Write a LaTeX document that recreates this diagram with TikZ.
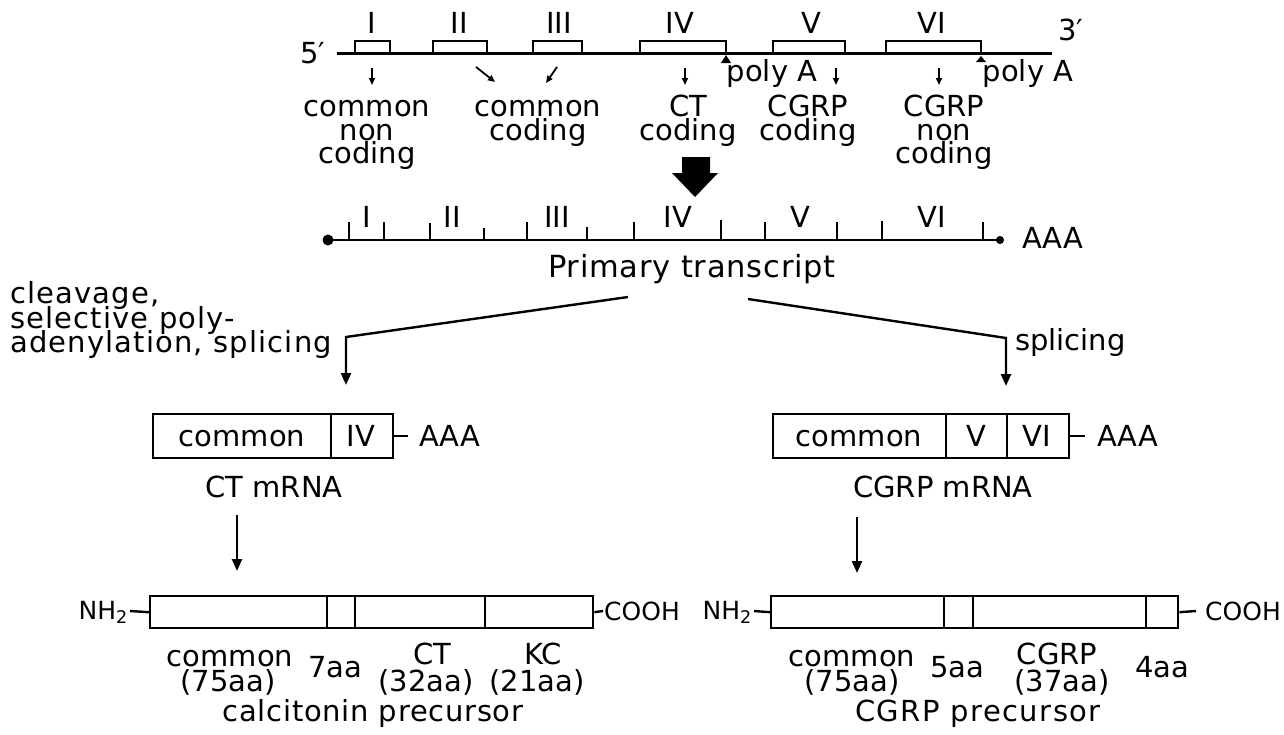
\documentclass[tikz,border=0pt]{standalone}
\usepackage{fontspec}
\setmainfont{DejaVu Sans}
\usetikzlibrary{arrows.meta}
\newcommand\mainfs{\fontsize{29}{24}\selectfont}
\newcommand\nhfs{\fontsize{25}{24}\selectfont}
\begin{document}
\begin{tikzpicture}[x=1pt,y=-1pt,
  txt/.style={font=\mainfs, inner sep=0pt, anchor=base},
  txtw/.style={font=\mainfs, inner sep=0pt, anchor=base west},
  nhtxt/.style={font=\nhfs, inner sep=0pt},
  boxn/.style={draw, line width=2.4pt, inner sep=0pt, anchor=north west},
  thin/.style={line width=2.4pt},
  small arrow/.style={line width=1.8pt, -{Triangle[length=7pt,width=6pt]}},
  big arrow/.style={line width=2.4pt, -{Triangle[length=12pt,width=10pt]}}]
\useasboundingbox (0,0) rectangle (1284,734);

% ---------------- gene ----------------
\node[txtw] (five) at (300,63) {5′};
\node[txtw] (three) at (1058,40) {3′};
\coordinate (gl) at (337,53);
\coordinate (gr) at (1052,53);
\draw[line width=3pt] (gl) -- (gr);
\foreach \a/\b in {355/390, 433/487, 533/582, 640/726, 773/845, 886/981}
  \draw[thin] (\a,53) |- (\b,41) -- (\b,53);
\node[txt] (eI) at (372,33) {I};
\node[txt] (eII) at (459,33) {II};
\node[txt] (eIII) at (559,33) {III};
\node[txt] (eIV) at (680,33) {IV};
\node[txt] (eV) at (811,33) {V};
\node[txt] (eVI) at (932,33) {VI};
\fill (726,55) -- (731,63) -- (721,63) -- cycle;
\fill (981,56) -- (986,62) -- (976,62) -- cycle;
\node[txt] (polyA1) at (772,81) {poly A};
\node[txt] (polyA2) at (1028,81) {poly A};

\coordinate (a1s) at (372,68); \coordinate (a1e) at (372,85);
\coordinate (a2s) at (476,67); \coordinate (a2e) at (495,82);
\coordinate (a3s) at (557,67); \coordinate (a3e) at (546,83);
\coordinate (a4s) at (685,68); \coordinate (a4e) at (685,85);
\coordinate (a5s) at (836,68); \coordinate (a5e) at (836,85);
\coordinate (a6s) at (939,68); \coordinate (a6e) at (939,85);
\foreach \i in {1,...,6} \draw[small arrow] (a\i s) -- (a\i e);

\node[txt] (l1a) at (367,116) {common};
\node[txt] (l1b) at (367,140) {non};
\node[txt] (l1c) at (367,163) {coding};
\node[txt] (l2a) at (538,116) {common};
\node[txt] (l2b) at (538,140) {coding};
\node[txt] (l3a) at (688,116) {CT};
\node[txt] (l3b) at (688,140) {coding};
\node[txt] (l4a) at (808,116) {CGRP};
\node[txt] (l4b) at (808,140) {coding};
\node[txt] (l5a) at (944,116) {CGRP};
\node[txt] (l5b) at (944,140) {non};
\node[txt] (l5c) at (944,163) {coding};

% big arrow
\fill (682,157) -- (710,157) -- (710,173) -- (718,173) -- (695,197) -- (672,173) -- (682,173) -- cycle;

% ---------------- primary transcript ----------------
\coordinate (tl) at (328,240);
\coordinate (tr) at (1000,240);
\draw[line width=2.6pt] (tl) -- (tr);
\fill (tl) circle (5.5);
\fill (tr) circle (4);
\foreach \x/\t in {349/222, 384/222, 430/223, 484/228, 527/222, 587/227, 634/222, 721/220, 765/222, 837/222, 882/221, 983/222}
  \draw[line width=2.2pt] (\x,240) -- (\x,\t);
\node[txt] (tI) at (367,227) {I};
\node[txt] (tII) at (452,227) {II};
\node[txt] (tIII) at (557,227) {III};
\node[txt] (tIV) at (678,227) {IV};
\node[txt] (tV) at (800,227) {V};
\node[txt] (tVI) at (932,227) {VI};
\node[txtw] (taaa) at (1022,248) {AAA};
\node[txt, font={\fontsize{30.5}{24}\selectfont\addfontfeature{LetterSpace=2.5}}] (prim) at (692,277) {Primary transcript};

% ---------------- processing ----------------
\tikzset{sp/.style={font={\mainfs\addfontfeature{LetterSpace=4}}}}
\node[txtw, sp] (c1) at (10,303) {cleavage,};
\node[txtw, sp] (c2) at (10,328) {selective poly-};
\node[txtw, sp] (c3) at (10,352) {adenylation, splicing};
\node[txtw] (spl) at (1015,350) {splicing};

\coordinate (ls) at (628,297);
\coordinate (lk) at (346,337);
\coordinate (le) at (346,385);
\coordinate (rs) at (748,299);
\coordinate (rk) at (1006,338);
\coordinate (re) at (1006,386);
\draw[big arrow] (ls) -- (lk) -- (le);
\draw[big arrow] (rs) -- (rk) -- (re);

% ---------------- mRNAs ----------------
\node[boxn, minimum width=240pt, minimum height=44pt] (ctm) at (152,413) {};
\draw[thin] (331,413) -- (331,457);
\node[txt] (ctmc) at (242,446) {common};
\node[txt] (ctmiv) at (361,446) {IV};
\coordinate (ctd) at (408,436);
\draw[thin] (ctm.east |- ctd) -- (ctd);
\node[txtw] (ctaaa) at (419,446) {AAA};
\node[txt] (ctlab) at (274,497) {CT mRNA};

\node[boxn, minimum width=296pt, minimum height=44pt] (cgm) at (772,413) {};
\draw[thin] (946,413) -- (946,457);
\draw[thin] (1007,413) -- (1007,457);
\node[txt] (cgmc) at (859,446) {common};
\node[txt] (cgmv) at (976,446) {V};
\node[txt] (cgmvi) at (1037,446) {VI};
\coordinate (cgd) at (1085,436);
\draw[thin] (cgm.east |- cgd) -- (cgd);
\node[txtw] (cgaaa) at (1097,446) {AAA};
\node[txt] (cglab) at (943,497) {CGRP mRNA};

\coordinate (cas) at (237,515); \coordinate (cae) at (237,571);
\coordinate (gas) at (857,517); \coordinate (gae) at (857,573);
\draw[big arrow] (cas) -- (cae);
\draw[big arrow] (gas) -- (gae);

% ---------------- precursors ----------------
\node[boxn, minimum width=443pt, minimum height=32pt] (pc) at (149,595) {};
\foreach \x in {327,355,485} \draw[thin] (\x,595) -- (\x,627);
\node[nhtxt, anchor=base east] (nh1) at (128,619) {NH\textsubscript{2}};
\coordinate (nh1d) at (130,611);
\draw[thin] (nh1d) -- (pc.west);
\coordinate (co1d) at (603,611);
\draw[thin] (pc.east) -- (co1d);
\node[nhtxt, anchor=base west] (co1) at (604,620) {COOH};

\node[txt] (p1a) at (230,666) {common};
\node[txt] (p1b) at (228,691) {(75aa)};
\node[txt] (p1c) at (335,677) {7aa};
\node[txt] (p1d) at (432,664) {CT};
\node[txt] (p1e) at (426,691) {(32aa)};
\node[txt] (p1f) at (543,664) {KC};
\node[txt] (p1g) at (537,691) {(21aa)};
\node[txt, font={\mainfs\addfontfeature{LetterSpace=2.5}}] (p1lab) at (373,721) {calcitonin precursor};

\node[boxn, minimum width=407pt, minimum height=32pt] (pg) at (770,595) {};
\foreach \x in {944,973,1146} \draw[thin] (\x,595) -- (\x,627);
\node[nhtxt, anchor=base east] (nh2) at (752,619) {NH\textsubscript{2}};
\coordinate (nh2d) at (754,611);
\draw[thin] (nh2d) -- (pg.west);
\coordinate (co2d) at (1196,611);
\draw[thin] (pg.east) -- (co2d);
\node[nhtxt, anchor=base east] (co2) at (1281,620) {COOH};

\node[txt] (p2a) at (852,666) {common};
\node[txt] (p2b) at (852,691) {(75aa)};
\node[txt] (p2c) at (957,677) {5aa};
\node[txt] (p2d) at (1057,664) {CGRP};
\node[txt] (p2e) at (1062,691) {(37aa)};
\node[txt] (p2f) at (1162,677) {4aa};
\node[txt, font={\mainfs\addfontfeature{LetterSpace=5}}] (p2lab) at (978,721) {CGRP precursor};
\end{tikzpicture}
\end{document}
